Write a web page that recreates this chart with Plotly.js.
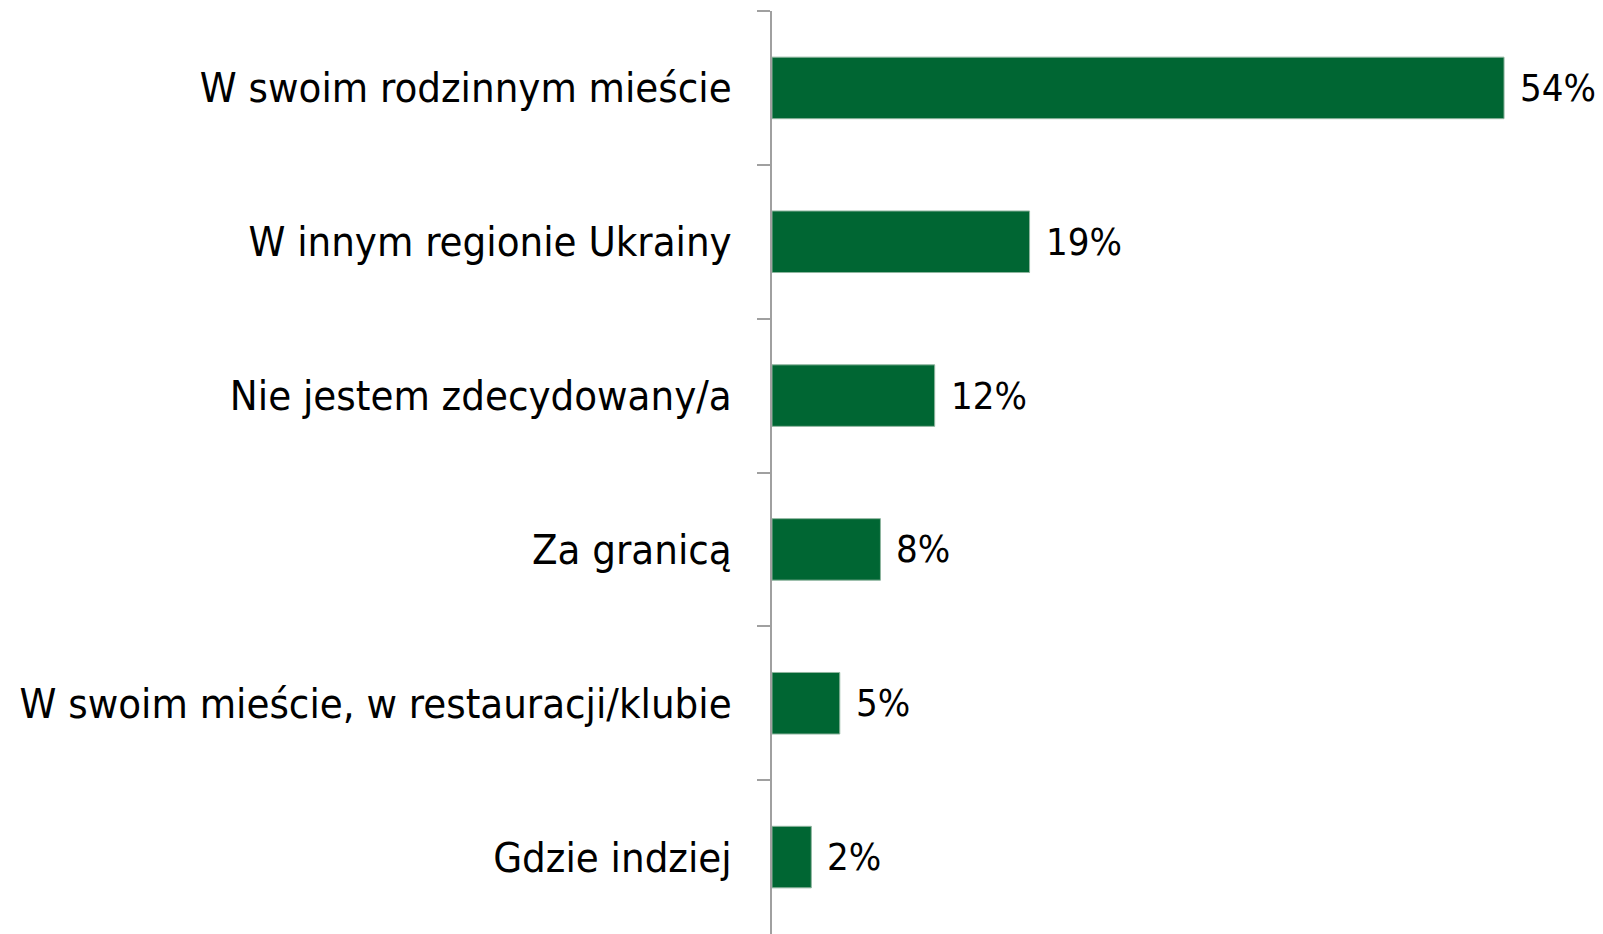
<!DOCTYPE html>
<html>
<head>
<meta charset="utf-8">
<script src="https://cdn.plot.ly/plotly-3.0.1.min.js"></script>
<style>
  html, body { margin: 0; padding: 0; background: #fff; }
  #chart { width: 1603px; height: 934px; }
</style>
</head>
<body>
<div id="chart"></div>
<script>
// Categories top to bottom
const categories = [
    'W swoim rodzinnym mieście',
    'W innym regionie Ukrainy',
    'Nie jestem zdecydowany/a',
    'Za granicą',
    'W swoim mieście, w restauracji/klubie',
    'Gdzie indziej'
];
// Bar lengths (percent)
const values = [54, 19, 12, 8, 5, 2.9];
// Value labels as printed next to the bars
const valueLabels = ['54%', '19%', '12%', '8%', '5%', '2%'];

const FONT = 'DejaVu Sans Condensed, DejaVu Sans, sans-serif';

const trace = {
    type: 'bar',
    orientation: 'h',
    x: values,
    y: categories,
    marker: { color: '#006633', line: { color: '#8fb59f', width: 1 } },
    width: 0.4,
    hoverinfo: 'none'
};

// Value labels placed through the axis scales
const annotations = categories.map((cat, i) => ({
    x: values[i],
    y: cat,
    xref: 'x',
    yref: 'y',
    text: valueLabels[i],
    showarrow: false,
    xanchor: 'left',
    yanchor: 'middle',
    xshift: 14,
    font: { family: FONT, size: 38, color: '#000' }
}));

const layout = {
    width: 1603,
    height: 934,
    margin: { t: 11, b: 0, l: 772, r: 0, pad: 0 },
    paper_bgcolor: '#fff',
    plot_bgcolor: '#fff',
    showlegend: false,
    xaxis: {
        range: [0, 61.3],
        visible: false,
        fixedrange: true
    },
    yaxis: {
        type: 'category',
        autorange: 'reversed',
        showline: true,
        linecolor: '#a0a0a0',
        linewidth: 2,
        ticks: 'outside',
        tickson: 'boundaries',
        ticklen: 13,
        tickwidth: 2,
        tickcolor: '#a0a0a0',
        ticklabelstandoff: 30,
        showgrid: false,
        zeroline: false,
        tickfont: { family: FONT, size: 41.5, color: '#000' }
    },
    annotations: annotations
};

Plotly.newPlot('chart', [trace], layout, { staticPlot: true });
</script>
</body>
</html>
